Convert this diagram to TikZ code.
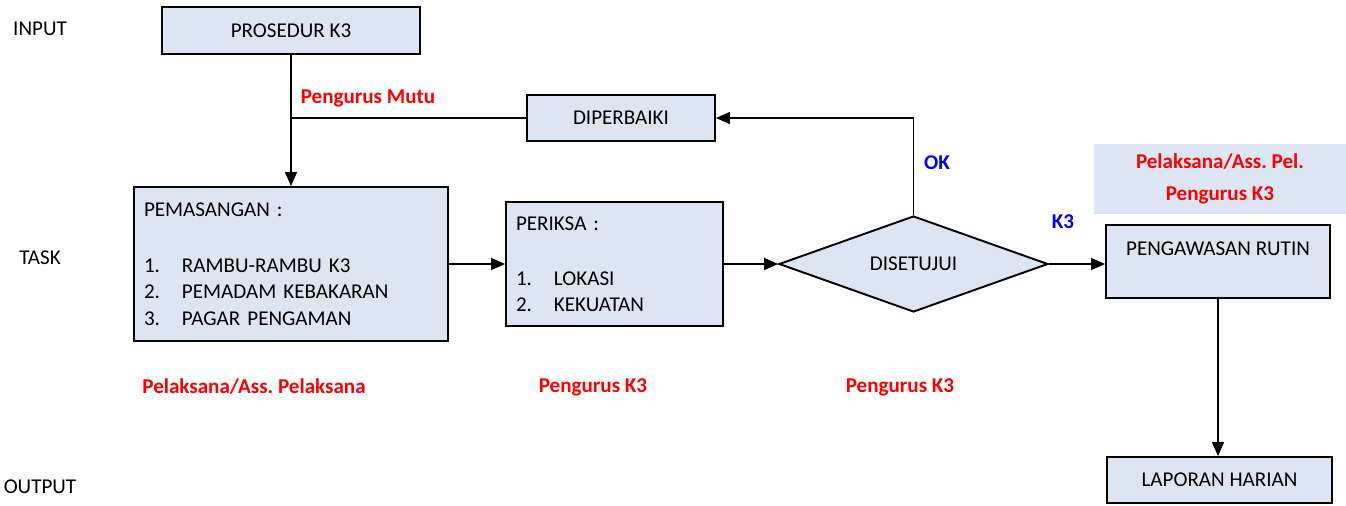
\documentclass[tikz,border=0pt]{standalone}
\usepackage{fontspec}
\setmainfont{Carlito}
\usetikzlibrary{shapes.geometric,arrows.meta}
\frenchspacing

\definecolor{birumuda}{RGB}{220,230,242}
\definecolor{merah}{RGB}{255,0,0}
\definecolor{biru}{RGB}{0,0,255}

\newcommand{\px}{0.02cm}
\newcommand{\huruf}{\fontsize{12}{0.53cm}\selectfont}
\newcommand{\butir}[2]{\makebox[0.76cm][l]{#1}#2}

\tikzset{
  kotak/.style={draw, fill=birumuda, line width=1.1pt, inner sep=0pt},
  panah/.style={-{Triangle[length=0.28cm,width=0.24cm]}, line width=0.9pt},
  garis/.style={line width=0.9pt},
  ket/.style={text=merah, font=\huruf\bfseries},
  ketbiru/.style={text=biru, font=\huruf\bfseries},
}

\begin{document}
\begin{tikzpicture}[x=\px, y=-\px, font=\huruf]
\useasboundingbox (0,0) rectangle (1346,505);

% Label baris
\foreach \nama/\teks/\y in {input/INPUT/29, task/TASK/258, output/OUTPUT/487}
  \node (\nama) at (40,\y) {\teks};

% Kotak proses
\node[kotak, minimum width=258*\px, minimum height=47*\px] (prosedur) at (291,30.5) {PROSEDUR K3};
\node[kotak, minimum width=188*\px, minimum height=46*\px] (perbaiki) at (621,118) {DIPERBAIKI};
\node[kotak, text width=294*\px, inner xsep=10*\px, minimum height=154*\px, align=left] (pasang) at (291,264)
  {PEMASANGAN :\\[0.06cm] \mbox{}\\ \butir{1.}{RAMBU-RAMBU K3}\\ \butir{2.}{PEMADAM KEBAKARAN}\\ \butir{3.}{PAGAR PENGAMAN}};
\node[kotak, text width=197*\px, inner xsep=10*\px, minimum height=124*\px, align=left] (periksa) at (614.5,264)
  {PERIKSA :\\[0.04cm] \mbox{}\\ \butir{1.}{LOKASI}\\ \butir{2.}{KEKUATAN}};
\node[kotak, diamond, aspect=2.8, minimum width=269*\px, minimum height=96*\px] (setuju) at (913.5,264) {DISETUJUI};
\node[kotak, minimum width=224*\px, minimum height=73*\px, align=center] (awas) at (1218,261.5) {PENGAWASAN RUTIN\\ \mbox{}};
\node[kotak, minimum width=225*\px, minimum height=46*\px] (lapor) at (1219.5,480) {LAPORAN HARIAN};

% Keterangan
\node[ket, fill=birumuda, inner sep=0pt, minimum width=252*\px, minimum height=70*\px, align=center] (pelaksana) at (1220,179)
  {Pelaksana/Ass. Pel.\\[0.1cm]Pengurus K3};
\node[ket] (mutu) at (368,98) {Pengurus Mutu};
\node[ket] (ketpasang) at (254,387) {Pelaksana/Ass. Pelaksana};
\node[ket] (ketperiksa) at (593,387) {Pengurus K3};
\node[ket] (ketsetuju) at (900,387) {Pengurus K3};
\node[ketbiru] (ok) at (937,163) {OK};
\node[ketbiru] (k3) at (1063,222) {K3};

% Panah
\draw[panah] (prosedur.south) -- (pasang.north);
\draw[garis] (perbaiki.west) -- (perbaiki.west -| prosedur.south);
\draw[panah] (setuju.north) |- (perbaiki.east);
\draw[panah] (pasang.east) -- (periksa.west);
\draw[panah] (periksa.east) -- (setuju.west);
\draw[panah] (setuju.east) -- (setuju.east -| awas.west);
\draw[panah] (awas.south) -- (awas.south |- lapor.north);

\end{tikzpicture}
\end{document}
